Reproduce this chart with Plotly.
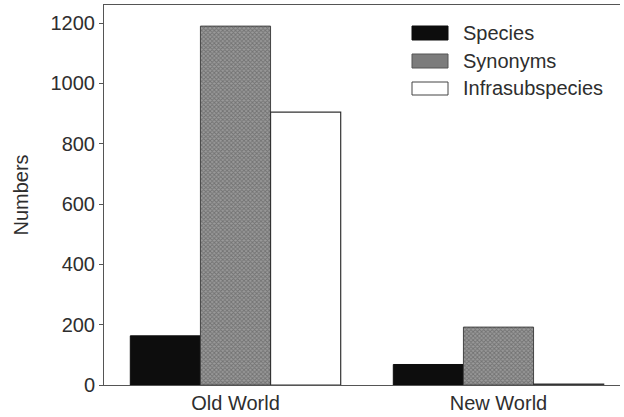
import plotly.graph_objects as go

categories = ["Old World", "New World"]
series_names = ["Species", "Synonyms", "Infrasubspecies"]
species = [163, 68]
synonyms = [1190, 192]
infrasubspecies = [905, 3]
y_ticks = [0, 200, 400, 600, 800, 1000, 1200]

FONT = "Liberation Sans, Arial, sans-serif"
TXT = "#2e2e2e"
FS = 20

fig = go.Figure()
fig.add_trace(go.Bar(x=categories, y=species, name=series_names[0],
                     marker=dict(color="#0d0d0d", line=dict(color="#0d0d0d", width=1))))
fig.add_trace(go.Bar(x=categories, y=synonyms, name=series_names[1],
                     marker=dict(color="#8a8a8a", line=dict(color="#444444", width=1),
                                 pattern=dict(shape="x", size=3, solidity=0.5,
                                              fgcolor="#4a4a4a", bgcolor="#9a9a9a"))))
fig.add_trace(go.Bar(x=categories, y=infrasubspecies, name=series_names[2],
                     marker=dict(color="#ffffff", line=dict(color="#333333", width=1.2))))

# manual legend (wide swatches as in the reference)
PL, PR, PT, PB = 104, 620, 5, 385
def px(x): return (x - PL) / (PR - PL)
def py(y): return (PB - y) / (PB - PT)

sw = [(26, 40, "#0d0d0d", "#0d0d0d"), (54, 68, "#7c7c7c", "#555555"), (82, 95, "#ffffff", "#444444")]
for (y0, y1, fc, lc), name in zip(sw, series_names):
    fig.add_shape(type="rect", xref="paper", yref="paper",
                  x0=px(412), x1=px(448), y0=py(y1), y1=py(y0),
                  fillcolor=fc, line=dict(color=lc, width=1))
    fig.add_annotation(xref="paper", yref="paper", x=px(461), y=py((y0 + y1) / 2),
                       text=name, showarrow=False, xanchor="left", yanchor="middle",
                       font=dict(family=FONT, size=FS, color=TXT))

fig.update_layout(
    width=624, height=417,
    margin=dict(l=PL, r=624 - PR, t=PT, b=417 - PB),
    paper_bgcolor="white", plot_bgcolor="white",
    barmode="group", bargap=0.2, bargroupgap=0,
    showlegend=False,
    font=dict(family=FONT, size=FS, color=TXT),
    xaxis=dict(range=[-0.5, 1.462], showline=True, linecolor="#555555", linewidth=1,
               mirror=True, ticks="", showgrid=False, zeroline=False,
               tickfont=dict(size=FS, color=TXT)),
    yaxis=dict(range=[0, 1260], tickvals=y_ticks, showline=True, linecolor="#555555",
               linewidth=1, ticks="outside", ticklen=4, tickcolor="#555555",
               showgrid=False, zeroline=False, tickfont=dict(size=FS, color=TXT),
               title=dict(text="Numbers", font=dict(size=FS, color=TXT), standoff=16)),
)

fig.write_html("out.html", config={"displayModeBar": False},
               post_script="document.body.style.margin='0px';")
